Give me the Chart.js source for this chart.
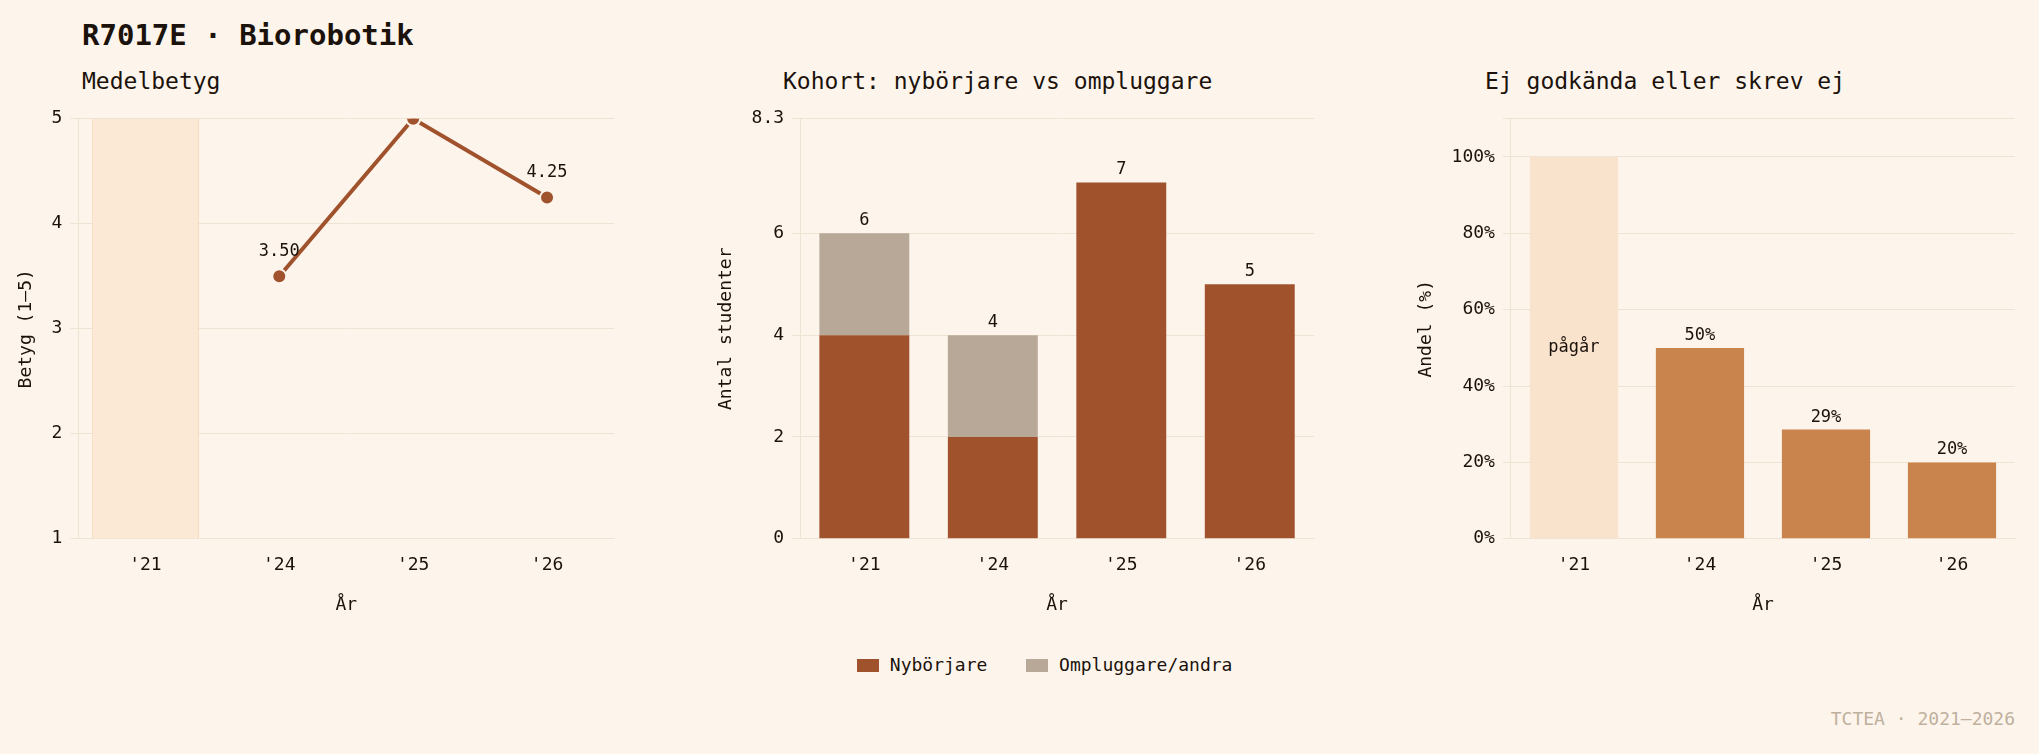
<!DOCTYPE html>
<html>
<head>
<meta charset="utf-8">
<script src="https://cdn.jsdelivr.net/npm/chart.js@4"></script>
<style>
  body { margin: 0; background: #fdf5eb; font-family: "DejaVu Sans Mono", monospace; color: #1c120c; }
  #wrap { position: relative; width: 2039px; height: 754px; }
  .t { position: absolute; white-space: nowrap; }
  .box { position: absolute; }
</style>
</head>
<body>
<div id="wrap">
  <div class="t" style="left:82px;top:18px;font-size:29px;font-weight:bold;">R7017E · Biorobotik</div>
  <div class="t" style="left:82px;top:68px;font-size:23px;">Medelbetyg</div>
  <div class="t" style="left:783px;top:68px;font-size:23px;">Kohort: nybörjare vs ompluggare</div>
  <div class="t" style="left:1485px;top:68px;font-size:23px;">Ej godkända eller skrev ej</div>
  <div class="t" style="right:24px;top:708px;font-size:18px;color:#bfb09e;">TCTEA · 2021–2026</div>
  <div class="box" style="left:0;top:100px;width:640px;height:520px;"><canvas id="c1"></canvas></div>
  <div class="box" style="left:700px;top:100px;width:640px;height:520px;"><canvas id="c2"></canvas></div>
  <div class="box" style="left:1400px;top:100px;width:639px;height:520px;"><canvas id="c3"></canvas></div>
  <div class="t" style="left:857px;top:654px;font-size:18px;">
    <span style="display:inline-block;width:22px;height:13px;background:#a0522d;vertical-align:-1px;"></span> Nybörjare
    <span style="display:inline-block;width:22px;height:13px;background:#b8a898;margin-left:28px;vertical-align:-1px;"></span> Ompluggare/andra
  </div>
</div>
<script>
const years = ["'21", "'24", "'25", "'26"];
const medelbetyg = [null, 3.5, 5.0, 4.25];
const pagarBand = [[1, 5], null, null, null];
const nyborjare = [4, 2, 7, 5];
const ompluggare = [2, 2, 0, 0];
const ejGodkandPct = [null, 50, 28.6, 20];
const pagarPct = [100, null, null, null];

const FONT = "DejaVu Sans Mono";
const INK = "#1c120c";
const GRID = "#efe3d3";
Chart.defaults.font.family = FONT;
Chart.defaults.font.size = 18;
Chart.defaults.color = INK;
Chart.defaults.animation = false;
Chart.defaults.maintainAspectRatio = false;
Chart.defaults.plugins.legend.display = false;
Chart.defaults.plugins.tooltip.enabled = false;

function axes(yOpts, yTitle) {
  return {
    x: { grid: { display: false }, border: { color: GRID }, ticks: { padding: 8 },
         title: { display: true, text: 'År', padding: { top: 10 } } },
    y: Object.assign({ grid: { color: GRID }, border: { color: GRID },
         title: { display: true, text: yTitle, padding: { bottom: 6 } } }, yOpts)
  };
}

// writes text labels above marks
const labelPlugin = {
  id: 'labels',
  afterDatasetsDraw(chart, args, opts) {
    const ctx = chart.ctx;
    ctx.save();
    ctx.font = '17px ' + FONT;
    ctx.fillStyle = INK;
    ctx.textAlign = 'center';
    ctx.textBaseline = 'bottom';
    const xs = chart.scales.x, ys = chart.scales.y;
    opts.values.forEach((v, i) => {
      if (v == null) return;
      ctx.fillText(opts.fmt(v), xs.getPixelForValue(i), ys.getPixelForValue(opts.pos(v, i)) - (opts.gap || 6));
    });
    if (opts.extra) opts.extra(chart, ctx);
    ctx.restore();
  }
};

new Chart(document.getElementById('c1'), {
  type: 'line',
  data: {
    labels: years,
    datasets: [
      { type: 'line', data: medelbetyg, borderColor: '#a0522d', borderWidth: 4,
        pointRadius: 7, pointBackgroundColor: '#a0522d', pointBorderColor: '#fdf5eb', pointBorderWidth: 2, spanGaps: true },
      { type: 'bar', data: pagarBand, backgroundColor: '#fbe8d5', borderColor: '#f6d9bc', borderWidth: { left: 1, right: 1 },
        barPercentage: 0.8, categoryPercentage: 1, order: 5 }
    ]
  },
  options: {
    layout: { padding: { left: 12, right: 26, top: 16 } },
    scales: axes({ min: 1, max: 5, ticks: { stepSize: 1, padding: 8 } }, 'Betyg (1–5)'),
    plugins: { labels: { values: medelbetyg, fmt: v => v.toFixed(2), pos: v => v, gap: 16 } }
  },
  plugins: [labelPlugin]
});
// offset line axis like categories
Chart.getChart('c1').options.scales.x.offset = true;
Chart.getChart('c1').update();

const totals = nyborjare.map((v, i) => v + ompluggare[i]);
new Chart(document.getElementById('c2'), {
  type: 'bar',
  data: {
    labels: years,
    datasets: [
      { label: 'Nybörjare', data: nyborjare, backgroundColor: '#a0522d', barPercentage: 0.7, categoryPercentage: 1 },
      { label: 'Ompluggare/andra', data: ompluggare, backgroundColor: '#b8a898', barPercentage: 0.7, categoryPercentage: 1 }
    ]
  },
  options: {
    layout: { padding: { left: 12, right: 26, top: 16 } },
    scales: (() => { const s = axes({ stacked: true, min: 0, max: 8.25, ticks: { stepSize: 2, padding: 8 } }, 'Antal studenter');
      s.x.stacked = true; return s; })(),
    plugins: { labels: { values: totals, fmt: v => String(v), pos: v => v, gap: 4 } }
  },
  plugins: [labelPlugin]
});

new Chart(document.getElementById('c3'), {
  type: 'bar',
  data: {
    labels: years,
    datasets: [
      { data: pagarPct, backgroundColor: '#fae3cc', barPercentage: 0.7, categoryPercentage: 1, grouped: false },
      { data: ejGodkandPct, backgroundColor: '#c8844c', barPercentage: 0.7, categoryPercentage: 1, grouped: false }
    ]
  },
  options: {
    layout: { padding: { left: 12, right: 24, top: 16 } },
    scales: axes({ min: 0, max: 110, ticks: { stepSize: 20, padding: 8, callback: v => v <= 100 ? v + '%' : '' } }, 'Andel (%)'),
    plugins: { labels: { values: ejGodkandPct, fmt: v => Math.round(v) + '%', pos: v => v, gap: 4,
      extra: (chart, ctx) => {
        ctx.textBaseline = 'middle';
        ctx.fillText('pågår', chart.scales.x.getPixelForValue(0), chart.scales.y.getPixelForValue(50));
      } } }
  },
  plugins: [labelPlugin]
});
</script>
</body>
</html>
